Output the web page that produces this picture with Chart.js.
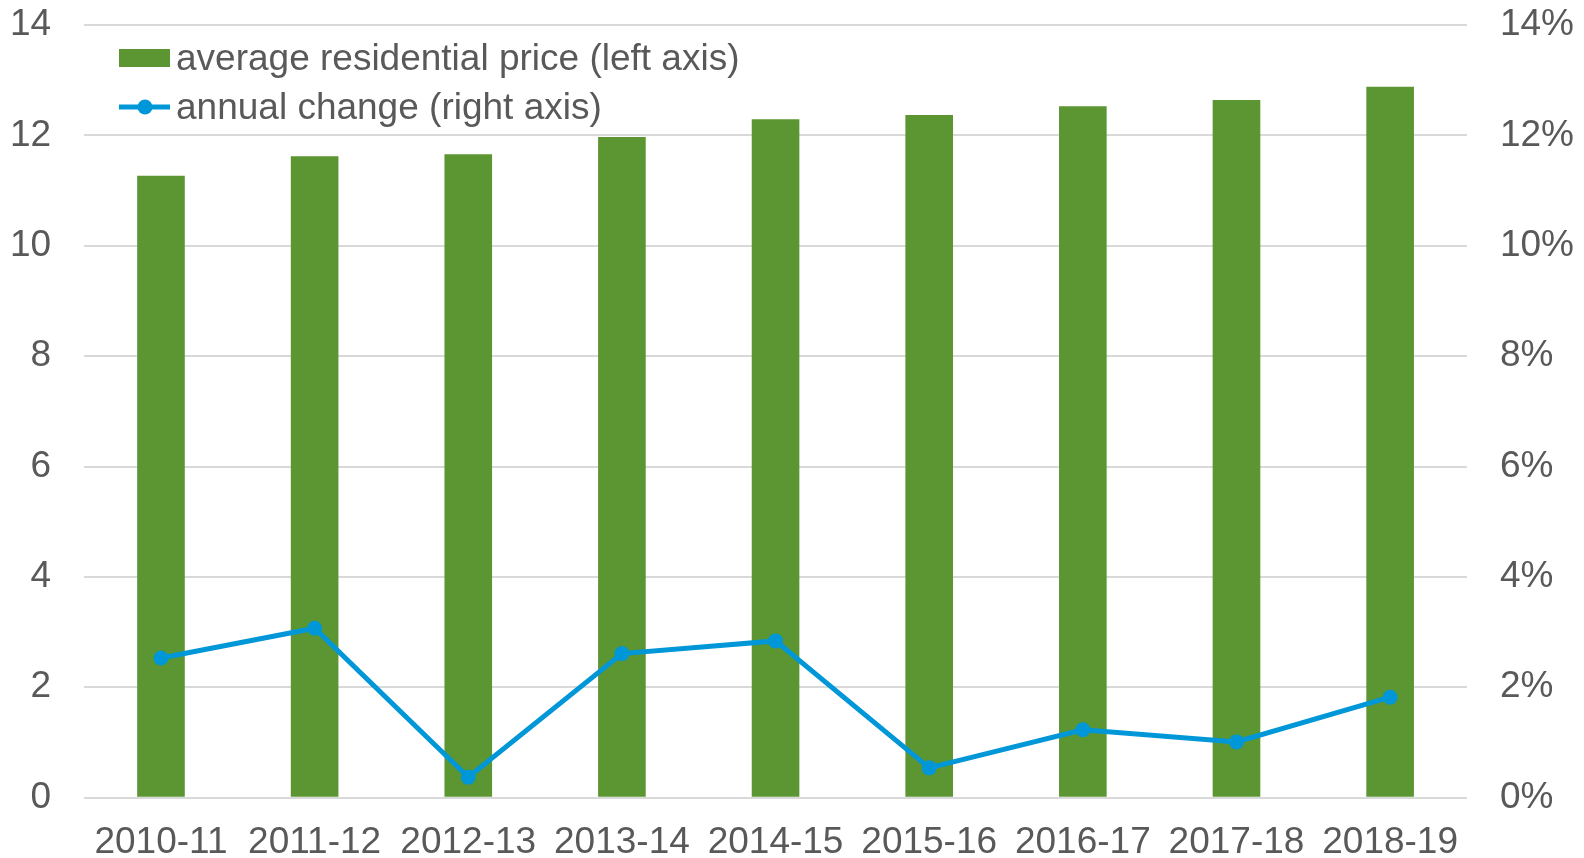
<!DOCTYPE html>
<html>
<head>
<meta charset="utf-8">
<script src="https://cdn.jsdelivr.net/npm/chart.js@4"></script>
<style>
  html, body { margin: 0; padding: 0; background: #fff; }
  #wrap { width: 1584px; height: 858px; }
</style>
</head>
<body>
<div id="wrap"><canvas id="priceChart" width="1584" height="858"></canvas></div>
<script>
// years and values
const years = ["2010-11", "2011-12", "2012-13", "2013-14", "2014-15", "2015-16", "2016-17", "2017-18", "2018-19"];
const avgPrice = [11.27, 11.62, 11.66, 11.97, 12.29, 12.37, 12.53, 12.64, 12.88];
const annualChange = [2.53, 3.07, 0.37, 2.61, 2.84, 0.54, 1.23, 1.01, 1.82];
const leftTicks = [0, 2, 4, 6, 8, 10, 12, 14];
const rightTicks = ["0%", "2%", "4%", "6%", "8%", "10%", "12%", "14%"];

const GREEN = "#5B9632";
const BLUE = "#0097D8";
const TEXT = "#595959";
const FONT = "'Liberation Sans', Arial, sans-serif";

// legend sits inside the plot, so draw it ourselves
const insideLegend = {
  id: "insideLegend",
  afterDraw(chart) {
    const ctx = chart.ctx;
    ctx.save();
    ctx.font = "37px " + FONT;
    ctx.textBaseline = "middle";
    ctx.textAlign = "left";

    ctx.fillStyle = GREEN;
    ctx.fillRect(119, 49, 51, 18);
    ctx.fillStyle = TEXT;
    ctx.fillText(chart.data.datasets[1].label, 176, 60);

    ctx.strokeStyle = BLUE;
    ctx.lineWidth = 5;
    ctx.beginPath();
    ctx.moveTo(119, 107);
    ctx.lineTo(170, 107);
    ctx.stroke();
    ctx.fillStyle = BLUE;
    ctx.beginPath();
    ctx.arc(145, 107, 7.5, 0, Math.PI * 2);
    ctx.fill();
    ctx.fillStyle = TEXT;
    ctx.fillText(chart.data.datasets[0].label, 176, 109);
    ctx.restore();
  }
};

const ctx = document.getElementById("priceChart").getContext("2d");
new Chart(ctx, {
  type: "bar",
  data: {
    labels: years,
    datasets: [
      {
        type: "line",
        label: "annual change (right axis)",
        data: annualChange,
        yAxisID: "y1",
        borderColor: BLUE,
        backgroundColor: BLUE,
        borderWidth: 5,
        pointRadius: 7.5,
        pointBorderWidth: 0,
        pointBackgroundColor: BLUE,
        tension: 0,
        order: 0
      },
      {
        type: "bar",
        label: "average residential price (left axis)",
        data: avgPrice,
        yAxisID: "y",
        backgroundColor: GREEN,
        borderWidth: 0,
        barPercentage: 0.62,
        categoryPercentage: 0.5,
        order: 1
      }
    ]
  },
  options: {
    responsive: false,
    animation: false,
    devicePixelRatio: 1,
    layout: { padding: { left: 10, right: 10, top: 25, bottom: 0 } },
    plugins: {
      legend: { display: false },
      tooltip: { enabled: false }
    },
    scales: {
      x: {
        grid: { display: true, drawOnChartArea: false, drawTicks: true, tickLength: 30, tickColor: "rgba(0,0,0,0)" },
        border: { display: false },
        ticks: {
          color: TEXT,
          padding: 0,
          maxRotation: 0,
          font: { family: FONT, size: 37, lineHeight: 0.82 }
        }
      },
      y: {
        position: "left",
        min: 0,
        max: 14,
        afterBuildTicks: (axis) => { axis.ticks = leftTicks.map(v => ({ value: v })); },
        grid: { color: "#D9D9D9", lineWidth: 2, drawTicks: true, tickLength: 33, tickColor: "rgba(0,0,0,0)" },
        border: { display: false },
        ticks: {
          color: TEXT,
          padding: 0,
          font: { family: FONT, size: 37 }
        }
      },
      y1: {
        position: "right",
        min: 0,
        max: 14,
        afterBuildTicks: (axis) => { axis.ticks = leftTicks.map(v => ({ value: v })); },
        grid: { drawOnChartArea: false, drawTicks: true, tickLength: 33, tickColor: "rgba(0,0,0,0)" },
        border: { display: false },
        ticks: {
          color: TEXT,
          padding: 0,
          font: { family: FONT, size: 37 },
          callback: (v) => rightTicks[leftTicks.indexOf(v)]
        }
      }
    }
  },
  plugins: [insideLegend]
});
</script>
</body>
</html>
